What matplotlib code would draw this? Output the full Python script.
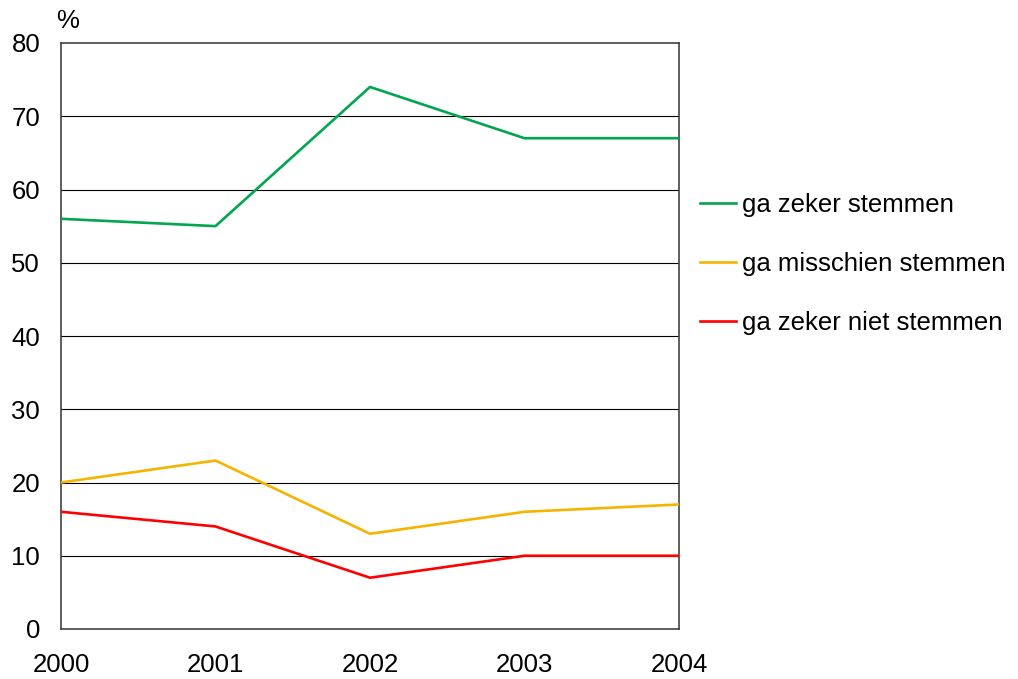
import matplotlib
matplotlib.use("Agg")
import matplotlib.pyplot as plt

# ---------- Data ----------
years = [2000, 2001, 2002, 2003, 2004]
zeker = [56, 55, 74, 67, 67]
misschien = [20, 23, 13, 16, 17]
niet = [16, 14, 7, 10, 10]
labels = ["ga zeker stemmen", "ga misschien stemmen", "ga zeker niet stemmen"]
colors = ["#00A650", "#F5B400", "#FF0000"]
yticks = [0, 10, 20, 30, 40, 50, 60, 70, 80]

plt.rcParams['font.family'] = ['Liberation Sans', 'DejaVu Sans']
FS = 18.5

fig = plt.figure(figsize=(10.18, 6.79), dpi=100)
ax = fig.add_axes([61 / 1018, 1 - 629 / 679, (679 - 61) / 1018, (629 - 43) / 679])

for vals, lab, col in zip([zeker, misschien, niet], labels, colors):
    ax.plot(years, vals, color=col, lw=1.9, label=lab, zorder=3)

ax.set_xlim(years[0], years[-1])
ax.set_ylim(0, 80)
ax.set_xticks(years)
ax.set_yticks(yticks)
ax.tick_params(axis='both', length=0, labelsize=FS)
ax.tick_params(axis='x', pad=17)
ax.tick_params(axis='y', pad=15)
for y in yticks[1:-1]:
    ax.axhline(y, color='black', lw=0.8, zorder=1)
for s in ax.spines.values():
    s.set_color('#333333')
    s.set_linewidth(1.1)

fig.text(68 / 1018, 1 - 21 / 679, "%", fontsize=FS, ha='center', va='center')

ax.legend(loc='center left', bbox_to_anchor=(700 / 1018, 1 - 264 / 679),
          bbox_transform=fig.transFigure, frameon=False, fontsize=FS,
          handlelength=1.4, handletextpad=0.25, labelspacing=1.35,
          borderpad=0, borderaxespad=0)

fig.savefig("out.png", dpi=100)
